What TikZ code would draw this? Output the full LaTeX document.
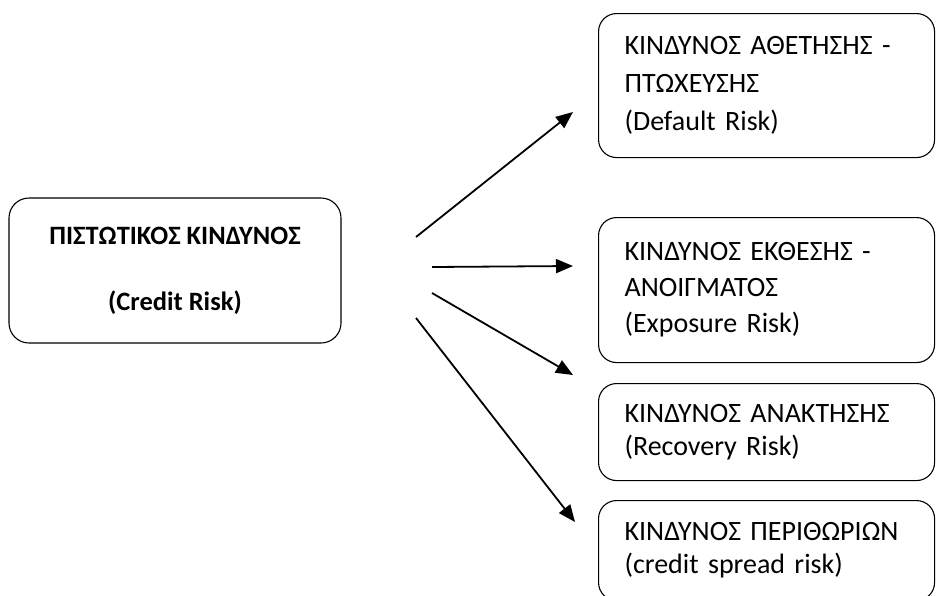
\documentclass[tikz,border=0pt]{standalone}
\usepackage{fontspec}
\setmainfont{Carlito}
\usetikzlibrary{arrows.meta, positioning}

\begin{document}
\begin{tikzpicture}[x=1pt, y=-1pt,
        riskbox/.style={draw=black, line width=1.1pt, rounded corners=18pt, anchor=north west, align=left, text width=284pt, inner xsep=26pt, inner ysep=0pt, font=\fontsize{28}{38}\selectfont},
        riskarrow/.style={line width=1.8pt, -{Triangle[length=17pt, width=14pt]}}]
            \useasboundingbox (0, 0) rectangle (936, 595);

            \node[draw=black, line width=1.1pt, rounded corners=20pt, minimum width=332pt, minimum height=145pt, align=center, font=\bfseries\fontsize{26.5}{33}\selectfont] (credit) at (175, 270.5) {ΠΙΣΤΩΤΙΚΟΣ ΚΙΝΔΥΝΟΣ\\[33pt](Credit Risk)};

            \node[riskbox, minimum height=144pt] (default) at (598, 13) {ΚΙΝΔΥΝΟΣ ΑΘΕΤΗΣΗΣ -\\ΠΤΩΧΕΥΣΗΣ\\(Default Risk)};
            \node[riskbox, minimum height=145pt, font=\fontsize{28}{36}\selectfont] (exposure) at (598, 217) {ΚΙΝΔΥΝΟΣ ΕΚΘΕΣΗΣ -\\ΑΝΟΙΓΜΑΤΟΣ\\(Exposure Risk)};
            \node[riskbox, minimum height=97pt, font=\fontsize{28}{33}\selectfont] (recovery) at (598, 383) {ΚΙΝΔΥΝΟΣ ΑΝΑΚΤΗΣΗΣ\\(Recovery Risk)};
            \node[riskbox, minimum height=100pt, font=\fontsize{28}{33}\selectfont] (spread) at (598, 500) {ΚΙΝΔΥΝΟΣ ΠΕΡΙΘΩΡΙΩΝ\\(credit spread risk)};

            \coordinate (s1) at (416, 237);
            \coordinate (s2) at (432, 267);
            \coordinate (s3) at (432, 293);
            \coordinate (s4) at (416, 318);
            \coordinate (e1) at (573, 112);
            \coordinate (e2) at (573, 266);
            \coordinate (e3) at (573, 375);
            \coordinate (e4) at (575, 522);

            \draw[riskarrow] (s1) -- (e1);
            \draw[riskarrow] (s2) -- (e2);
            \draw[riskarrow] (s3) -- (e3);
            \draw[riskarrow] (s4) -- (e4);
        \end{tikzpicture}
\end{document}
